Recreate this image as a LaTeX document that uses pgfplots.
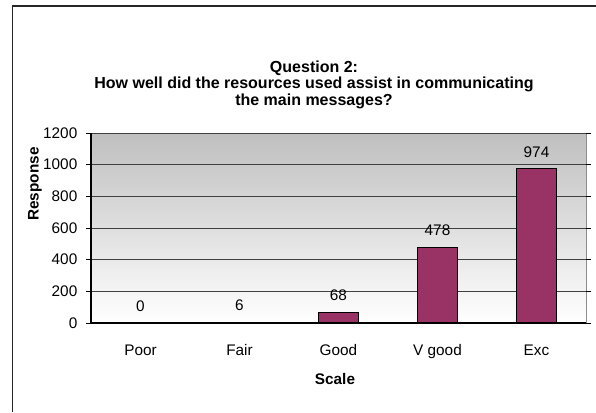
\documentclass[border=0pt]{standalone}
\usepackage{fontspec}
\setmainfont{Liberation Sans}
\usepackage{pgfplots}
\pgfplotsset{compat=1.18}
\definecolor{barc}{HTML}{993366}
\begin{document}
\begin{tikzpicture}[x=0.75pt,y=0.75pt]
\path[use as bounding box] (0,0) rectangle (596,412);
\fill[black!85] (11.8,0) rectangle (13.4,407);
\fill[black!85] (11.8,405) rectangle (596,407);
\begin{axis}[
  at={(68.25pt,66.75pt)}, anchor=south west,
  scale only axis, width=371.25pt, height=142.5pt,
  xmin=-0.5, xmax=4.5, ymin=0, ymax=1200,
  ytick={0,200,...,1200},
  xtick={0,1,2,3,4},
  xticklabels={Poor,Fair,Good,V good,Exc},
  minor xtick={-0.5,0.5,...,4.5},
  xtick style={draw=none},
  minor x tick style={black, line width=0.5pt},
  y tick style={black, line width=0.5pt},
  tick align=outside,
  major tick length=3.75pt, minor tick length=3.75pt,
  ymajorgrids,
  grid style={black!75, line width=0.6pt},
  axis line style={draw=none},
  axis background/.style={top color=black!25, bottom color=white, draw=black!45, line width=0.5pt},
  ticklabel style={font=\fontsize{11.5}{13}\selectfont},
  /pgf/number format/assume math mode=true,
  /pgf/number format/1000 sep={},
  yticklabel style={xshift=-3pt},
  xticklabel style={yshift=-9pt},
  ybar, bar width=30pt,
  nodes near coords,
  every node near coord/.append style={font=\fontsize{11.5}{13}\selectfont, anchor=center, yshift=12.75pt},
  clip=false,
]
\addplot[fill=barc, draw=black, line width=0.75pt] coordinates {(0,0) (1,6) (2,68) (3,478) (4,974)};
\draw[black, line width=0.8pt] (rel axis cs:0,0) -- (rel axis cs:0,1);
\draw[black, line width=0.8pt] (rel axis cs:0,0) -- (rel axis cs:1,0);
\end{axis}
\node[align=center, font=\fontsize{12}{12.4}\selectfont\bfseries] at (314,327.5)
  {Question 2:\\How well did the resources used assist in communicating\\the main messages?};
\node[font=\fontsize{11.5}{13}\selectfont\bfseries] at (335,33) {Scale};
\node[font=\fontsize{11.5}{13}\selectfont\bfseries, rotate=90] at (35,228) {Response};
\end{tikzpicture}
\end{document}
